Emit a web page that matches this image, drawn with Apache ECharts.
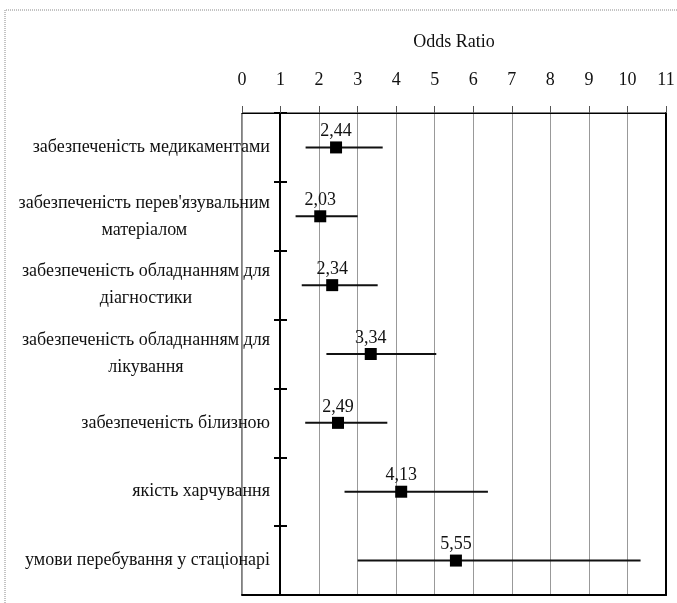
<!DOCTYPE html>
<html>
<head>
<meta charset="utf-8">
<script src="https://cdn.jsdelivr.net/npm/echarts@6/dist/echarts.min.js"></script>
<style>
html,body{margin:0;padding:0;background:#fff;}
#chart{width:677px;height:603px;}
</style>
</head>
<body>
<div id="chart"></div>
<script>
// ---- data ----
const categories = [
  'забезпеченість медикаментами',
  "забезпеченість перев'язувальним\nматеріалом",
  'забезпеченість обладнанням для\nдіагностики',
  'забезпеченість обладнанням для\nлікування',
  'забезпеченість білизною',
  'якість харчування',
  'умови перебування у стаціонарі'
];
const oddsRatio = [2.44, 2.03, 2.34, 3.34, 2.49, 4.13, 5.55];
const ciLower  = [1.65, 1.39, 1.55, 2.19, 1.64, 2.66, 3.00];
const ciUpper  = [3.65, 3.00, 3.52, 5.04, 3.77, 6.38, 10.34];
const xTicks = [0,1,2,3,4,5,6,7,8,9,10,11];
const xTitle = 'Odds Ratio';

const FONT = '"Liberation Serif", "DejaVu Serif", serif';
const TXT = '#111';

const chart = echarts.init(document.getElementById('chart'), null, {renderer: 'canvas'});

const pointData = oddsRatio.map((v, i) => [v, i]);
const ciData = ciLower.map((lo, i) => [lo, ciUpper[i], i]);

const option = {
  backgroundColor: '#fff',
  animation: false,
  graphic: [{
    type: 'polyline',
    shape: {points: [[5, 603], [5, 10], [677, 10]]},
    style: {stroke: '#888', lineWidth: 1, lineDash: [1, 1], fill: null},
    silent: true
  }],
  grid: {
    left: 242, right: 11, top: 113, bottom: 8,
    show: true, borderColor: '#000', borderWidth: 1,
    containLabel: false, outerBoundsMode: 'none'
  },
  xAxis: [{
    type: 'value',
    position: 'top',
    min: xTicks[0], max: xTicks[xTicks.length - 1], interval: 1,
    name: xTitle,
    nameLocation: 'middle',
    nameGap: 62,
    nameTextStyle: {fontFamily: FONT, fontSize: 18, color: TXT},
    axisLine: {show: true, lineStyle: {color: '#000', width: 1}},
    axisTick: {show: true, length: 7, lineStyle: {color: '#555', width: 1}},
    axisLabel: {fontFamily: FONT, fontSize: 18, color: TXT, margin: 24,
      formatter: v => String(v)},
    splitLine: {show: true, lineStyle: {color: '#999', width: 1}}
  }, {
    type: 'value',
    position: 'bottom',
    min: xTicks[0], max: xTicks[xTicks.length - 1],
    axisLine: {show: true, lineStyle: {color: '#000', width: 2}},
    axisTick: {show: false}, axisLabel: {show: false}, splitLine: {show: false}
  }],
  yAxis: [{
    type: 'category',
    data: categories,
    inverse: true,
    position: 'left',
    offset: -38,
    boundaryGap: true,
    axisLine: {show: true, onZero: false, lineStyle: {color: '#000', width: 2}},
    axisTick: {show: true, length: 6, lineStyle: {color: '#000', width: 2}},
    axisLabel: {
      margin: 10,
      align: 'right',
      color: TXT,
      fontFamily: FONT,
      fontSize: 18,
      lineHeight: 27,
      formatter: v => v.split('\n').map(l => '{c|' + l + '}').join('\n'),
      rich: {c: {align: 'center', fontFamily: FONT, fontSize: 18, lineHeight: 27, color: TXT}}
    },
    splitLine: {show: false}
  }, {
    type: 'category',
    data: categories,
    inverse: true,
    position: 'left',
    offset: -38,
    axisLine: {show: false, onZero: false},
    axisTick: {show: true, inside: true, length: 7, lineStyle: {color: '#000', width: 2}},
    axisLabel: {show: false},
    splitLine: {show: false}
  }, {
    type: 'category',
    data: categories,
    inverse: true,
    position: 'right',
    axisLine: {show: true, onZero: false, lineStyle: {color: '#000', width: 2}},
    axisTick: {show: false}, axisLabel: {show: false}, splitLine: {show: false}
  }],
  series: [{
    type: 'custom',
    xAxisIndex: 0, yAxisIndex: 0,
    data: ciData,
    encode: {x: [0, 1], y: 2},
    renderItem: function (params, api) {
      const p1 = api.coord([api.value(0), api.value(2)]);
      const p2 = api.coord([api.value(1), api.value(2)]);
      return {
        type: 'line',
        shape: {x1: p1[0], y1: p1[1], x2: p2[0], y2: p2[1]},
        style: {stroke: '#111', lineWidth: 2}
      };
    },
    z: 3
  }, {
    type: 'scatter',
    xAxisIndex: 0, yAxisIndex: 0,
    data: pointData,
    symbol: 'rect',
    symbolSize: 12,
    itemStyle: {color: '#000', opacity: 1},
    label: {
      show: true,
      position: 'top',
      distance: 1,
      fontFamily: FONT,
      fontSize: 18,
      color: TXT,
      opacity: 1,
      formatter: p => p.value[0].toFixed(2).replace('.', ',')
    },
    z: 4
  }]
};
chart.setOption(option);
</script>
</body>
</html>
